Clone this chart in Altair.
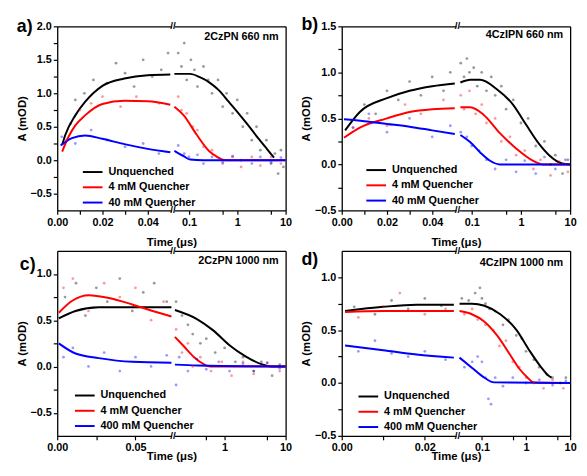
import altair as alt
import pandas as pd

FONT = "Liberation Sans"
W, WL, GAP = 232, 116, 3
H_TOP, H_BOT = 187, 188
COLORS = ["#000000", "#ff0000", "#0000ff"]

NAMES_AB = ["Unquenched", "4 mM Quencher", "40 mM Quencher"]
NAMES_CD = ["Unquenched", "4 mM Quencher", "400 mM Quencher"]
PANEL_LABELS = ["a)", "b)", "c)", "d)"]
NOTES = ["2CzPN 660 nm", "4CzIPN 660 nm", "2CzPN 1000 nm", "4CzIPN 1000 nm"]
X_TITLE = "Time (\u03bcs)"
Y_TITLE = "A (mOD)"

# ================= fitted curves =================
# panel a: 2CzPN 660 nm
A_UNQ_LIN_T = [0.0022, 0.0036, 0.008, 0.0123, 0.02, 0.0297, 0.04, 0.05]
A_UNQ_LIN_Y = [0.23, 0.38, 0.67, 0.87, 1.11, 1.22, 1.27, 1.28]
A_UNQ_LOG_T = [0.05, 0.106, 0.168, 0.267, 0.424, 0.67, 1.06, 1.69, 2.7, 4.2, 5.75]
A_UNQ_LOG_Y = [1.29, 1.29, 1.24, 1.16, 1.04, 0.87, 0.70, 0.52, 0.33, 0.16, 0.04]
A_Q4_LIN_T = [0.0022, 0.005, 0.008, 0.0123, 0.02, 0.0297, 0.04, 0.05]
A_Q4_LIN_Y = [0.13, 0.35, 0.52, 0.67, 0.84, 0.89, 0.88, 0.83]
A_Q4_LOG_T = [0.05, 0.078, 0.145, 0.267, 0.363, 0.575, 10]
A_Q4_LOG_Y = [0.80, 0.67, 0.38, 0.13, 0.06, 0.0, 0.0]
A_Q40_LIN_T = [0.0015, 0.0065, 0.0123, 0.02, 0.0297, 0.04, 0.05]
A_Q40_LIN_Y = [0.22, 0.33, 0.37, 0.32, 0.24, 0.17, 0.12]
A_Q40_LOG_T = [0.05, 0.078, 0.106, 0.196, 10]
A_Q40_LOG_Y = [0.14, 0.06, 0.01, 0.0, 0.0]

# panel b: 4CzIPN 660 nm
B_UNQ_LIN_T = [0.0015, 0.008, 0.02, 0.03, 0.04, 0.05]
B_UNQ_LIN_Y = [0.37, 0.57, 0.72, 0.80, 0.85, 0.88]
B_UNQ_LOG_T = [0.059, 0.094, 0.149, 0.32, 0.69, 1.28, 2.36, 3.74, 6.9, 10]
B_UNQ_LOG_Y = [0.89, 0.92, 0.92, 0.82, 0.65, 0.43, 0.22, 0.10, 0.01, 0.0]
B_Q4_LIN_T = [0.001, 0.008, 0.02, 0.03, 0.04, 0.05]
B_Q4_LIN_Y = [0.29, 0.40, 0.50, 0.57, 0.60, 0.61]
B_Q4_LOG_T = [0.059, 0.094, 0.174, 0.374, 0.81, 1.74, 2.75, 10]
B_Q4_LOG_Y = [0.62, 0.62, 0.54, 0.34, 0.17, 0.04, 0.0, 0.0]
B_Q40_LIN_T = [0.001, 0.01, 0.02, 0.03, 0.04, 0.05]
B_Q40_LIN_Y = [0.49, 0.47, 0.44, 0.41, 0.37, 0.33]
B_Q40_LOG_T = [0.059, 0.094, 0.149, 0.236, 0.374, 10]
B_Q40_LOG_Y = [0.32, 0.24, 0.13, 0.04, 0.0, 0.0]

# panel c: 2CzPN 1000 nm
C_UNQ_LIN_T = [0.001, 0.0117, 0.0266, 0.048, 0.073]
C_UNQ_LIN_Y = [0.52, 0.60, 0.64, 0.64, 0.64]
C_UNQ_LOG_T = [0.153, 0.357, 0.65, 1.2, 2.2, 4.0, 5.8, 10]
C_UNQ_LOG_Y = [0.61, 0.51, 0.39, 0.23, 0.11, 0.025, 0.0, 0.0]
C_Q4_LIN_T = [0.001, 0.0096, 0.0202, 0.033, 0.048, 0.061, 0.073]
C_Q4_LIN_Y = [0.58, 0.71, 0.77, 0.74, 0.67, 0.60, 0.54]
C_Q4_LOG_T = [0.153, 0.22, 0.316, 0.455, 0.58, 10]
C_Q4_LOG_Y = [0.32, 0.21, 0.10, 0.025, 0.0, 0.0]
C_Q400_LIN_T = [0.001, 0.0117, 0.0266, 0.048, 0.073]
C_Q400_LIN_Y = [0.25, 0.14, 0.09, 0.05, 0.04]
C_Q400_LOG_T = [0.153, 0.357, 10]
C_Q400_LOG_Y = [0.02, 0.01, 0.0]

# panel d: 4CzIPN 1000 nm
D_UNQ_LIN_T = [0.0008, 0.01, 0.018, 0.027]
D_UNQ_LIN_Y = [0.68, 0.72, 0.74, 0.74]
D_UNQ_LOG_T = [0.031, 0.059, 0.114, 0.26, 0.61, 1.18, 2.1, 3.2, 3.8]
D_UNQ_LOG_Y = [0.75, 0.75, 0.73, 0.65, 0.50, 0.31, 0.16, 0.07, 0.05]
D_Q4_LIN_T = [0.0008, 0.01, 0.027]
D_Q4_LIN_Y = [0.67, 0.68, 0.68]
D_Q4_LOG_T = [0.031, 0.059, 0.114, 0.22, 0.43, 0.72, 1.09, 1.5, 10]
D_Q4_LOG_Y = [0.68, 0.65, 0.58, 0.45, 0.27, 0.13, 0.05, 0.005, 0.0]
D_Q400_LIN_T = [0.0008, 0.01, 0.018, 0.027]
D_Q400_LIN_Y = [0.355, 0.31, 0.27, 0.24]
D_Q400_LOG_T = [0.031, 0.059, 0.114, 0.188, 10]
D_Q400_LOG_Y = [0.24, 0.145, 0.05, 0.006, 0.0]

# ================= measured points (faint dots) =================
A_DOT_UNQ_T = [0.006, 0.008, 0.012, 0.016, 0.022, 0.026, 0.03, 0.034, 0.038, 0.042, 0.046, 0.049,
               0.06, 0.07, 0.08, 0.09, 0.11, 0.13, 0.15, 0.2, 0.25, 0.3, 0.4, 0.5, 0.6, 0.8, 1.0,
               1.3, 1.6, 2.0, 2.5, 3, 4, 5, 6, 7, 8, 9]
A_DOT_UNQ_Y = [0.55, 0.9, 1.0, 1.2, 1.15, 1.45, 1.3, 1.1, 1.5, 1.25, 1.35, 1.6,
               1.6, 1.4, 1.75, 1.2, 1.5, 1.35, 1.1, 1.4, 1.2, 1.0, 1.2, 0.8, 1.0, 0.7, 0.9,
               0.5, 0.7, 0.3, 0.5, 0.15, 0.3, -0.05, 0.1, -0.2, 0.15, -0.1]
A_DOT_Q4_T = [0.004, 0.01, 0.015, 0.02, 0.028, 0.035, 0.045, 0.06, 0.07, 0.09, 0.12, 0.15, 0.2,
              0.3, 0.5, 0.8, 1.2, 2, 3, 5, 8]
A_DOT_Q4_Y = [0.3, 0.75, 0.85, 0.95, 0.8, 0.95, 0.85, 0.95, 0.75, 0.7, 0.5, 0.45, 0.2,
              0.15, -0.05, 0.05, -0.1, 0.05, -0.08, 0.05, -0.05]
A_DOT_Q40_T = [0.002, 0.008, 0.015, 0.022, 0.03, 0.038, 0.045, 0.06, 0.08, 0.1, 0.15, 0.2, 0.3,
               0.5, 0.8, 1.2, 2, 3, 5, 8]
A_DOT_Q40_Y = [0.35, 0.25, 0.45, 0.3, 0.2, 0.25, 0.1, 0.22, 0.1, 0.05, 0.08, -0.05, 0.05,
               -0.03, 0.06, 0.0, -0.05, 0.05, -0.03, 0.04]

B_DOT_UNQ_T = [0.01, 0.015, 0.02, 0.025, 0.03, 0.035, 0.04, 0.045, 0.048, 0.06, 0.07, 0.08, 0.09,
               0.11, 0.13, 0.16, 0.2, 0.25, 0.3, 0.4, 0.5, 0.7, 1.0, 1.4, 2, 3, 4, 5, 7, 9]
B_DOT_UNQ_Y = [0.65, 0.55, 0.8, 0.7, 0.9, 0.75, 0.95, 0.8, 1.0, 1.1, 0.95, 1.15, 1.0,
               1.05, 0.85, 1.0, 0.8, 0.95, 0.75, 0.85, 0.6, 0.7, 0.45, 0.5, 0.2, 0.25, 0.0, 0.1, -0.1, 0.05]
B_DOT_Q4_T = [0.005, 0.012, 0.02, 0.028, 0.035, 0.045, 0.06, 0.07, 0.09, 0.12, 0.16, 0.2, 0.3,
              0.4, 0.6, 0.8, 1.2, 1.8, 2.5, 4, 6, 9]
B_DOT_Q4_Y = [0.4, 0.5, 0.42, 0.65, 0.55, 0.7, 0.75, 0.6, 0.8, 0.55, 0.65, 0.45, 0.5,
              0.25, 0.3, 0.1, 0.15, -0.05, 0.05, -0.12, 0.03, -0.08]
B_DOT_Q40_T = [0.005, 0.012, 0.02, 0.03, 0.04, 0.048, 0.06, 0.08, 0.1, 0.14, 0.2, 0.3, 0.5, 0.8,
               1.2, 2, 3, 5, 8]
B_DOT_Q40_Y = [0.4, 0.55, 0.35, 0.5, 0.3, 0.42, 0.35, 0.3, 0.2, 0.15, 0.05, -0.05, 0.05, -0.08,
               0.04, -0.1, 0.08, -0.05, 0.05]

C_DOT_UNQ_T = [0.005, 0.012, 0.018, 0.025, 0.032, 0.04, 0.048, 0.055, 0.062, 0.07, 0.16, 0.2,
               0.25, 0.3, 0.4, 0.5, 0.7, 1, 1.5, 2, 3, 4, 6, 8]
C_DOT_UNQ_Y = [0.75, 0.9, 0.55, 0.85, 0.7, 0.95, 0.6, 0.8, 0.9, 0.7, 0.7, 0.55,
               0.45, 0.35, 0.25, 0.3, 0.15, 0.2, 0.05, 0.1, -0.05, 0.05, -0.1, 0.02]
C_DOT_Q4_T = [0.004, 0.01, 0.02, 0.03, 0.04, 0.05, 0.06, 0.068, 0.16, 0.2, 0.25, 0.3, 0.4, 0.6,
              0.9, 1.3, 2, 3, 5, 8]
C_DOT_Q4_Y = [0.85, 0.95, 0.6, 0.9, 0.75, 0.85, 0.5, 0.7, 0.4, 0.15, 0.25, 0.0, 0.1, -0.05,
              0.05, -0.1, 0.05, -0.08, 0.04, -0.05]
C_DOT_Q400_T = [0.004, 0.01, 0.02, 0.03, 0.04, 0.05, 0.06, 0.07, 0.16, 0.18, 0.25, 0.35, 0.5,
                0.8, 1.2, 2, 3, 5, 8]
C_DOT_Q400_Y = [0.1, 0.2, 0.0, 0.15, -0.05, 0.1, 0.0, 0.12, -0.2, 0.1, -0.05, 0.08, -0.03,
                0.05, -0.05, 0.03, -0.05, 0.04, -0.02]

D_DOT_UNQ_T = [0.003, 0.008, 0.012, 0.016, 0.02, 0.024, 0.035, 0.05, 0.07, 0.09, 0.1, 0.12, 0.15,
               0.2, 0.3, 0.4, 0.6, 0.8, 1.0, 1.5, 2, 3, 4, 6, 8]
D_DOT_UNQ_Y = [0.72, 0.65, 0.78, 0.7, 0.8, 0.73, 0.8, 0.78, 0.85, 0.9, 0.8, 0.75, 0.7,
               0.68, 0.55, 0.6, 0.45, 0.42, 0.3, 0.22, 0.15, 0.08, 0.05, 0.0, 0.05]
D_DOT_Q4_T = [0.004, 0.01, 0.014, 0.02, 0.025, 0.04, 0.06, 0.08, 0.12, 0.18, 0.25, 0.35, 0.5,
              0.7, 1, 1.5, 2.5, 4, 7]
D_DOT_Q4_Y = [0.62, 0.72, 0.85, 0.65, 0.7, 0.65, 0.7, 0.6, 0.55, 0.5, 0.35, 0.4, 0.2,
              0.15, 0.05, 0.0, -0.05, 0.03, -0.05]
D_DOT_Q400_T = [0.004, 0.008, 0.012, 0.016, 0.02, 0.025, 0.04, 0.06, 0.08, 0.1, 0.12, 0.14, 0.16,
                0.2, 0.3, 0.5, 1, 2, 4, 8]
D_DOT_Q400_Y = [0.3, 0.4, 0.28, 0.25, 0.3, 0.22, 0.15, 0.2, 0.25, 0.2, 0.05, -0.15, -0.2,
                0.05, -0.03, 0.05, 0.0, 0.03, -0.02, 0.02]

# ================= axis ticks =================
Y_TICKS_A = [-0.5, -0.25, 0.0, 0.25, 0.5, 0.75, 1.0, 1.25, 1.5, 1.75, 2.0]
Y_TICKS_B = [-0.5, -0.25, 0.0, 0.25, 0.5, 0.75, 1.0, 1.25, 1.5]
Y_TICKS_CD = [-0.5, -0.25, 0.0, 0.25, 0.5, 0.75, 1.0]
X_LIN_TICKS_AB = [0.0, 0.01, 0.02, 0.03, 0.04]
X_LIN_TICKS_C = [0.0, 0.025, 0.05]
X_LIN_TICKS_D = [0.0, 0.01, 0.02]
X_LOG_TICKS = [0.1, 0.5, 1, 5, 10]
X_LOG_TICKS_C = [0.5, 1, 5, 10]


def series_df(names, ts, ys):
    rows = []
    for k, (n, tt, yy) in enumerate(zip(names, ts, ys)):
        for t, a in zip(tt, yy):
            rows.append({"t": t, "A": a, "s": n, "k": k})
    return pd.DataFrame(rows)


def panel(idx, names, lin_ts, lin_ys, log_ts, log_ys, dot_ts, dot_ys, lin_dom, log_dom, y_dom,
          y_vals, lin_vals, lin_expr, log_vals, H, lab_xy, note_y, title_pad, leg_xy):
    lin = series_df(names, lin_ts, lin_ys)
    lg = series_df(names, log_ts, log_ys)
    dots = series_df(names, dot_ts, dot_ys)
    dots_lin = dots[dots["t"] <= lin_dom[1]]
    dots_log = dots[dots["t"] >= log_dom[0]]
    ysc = alt.Scale(domain=y_dom, nice=False, zero=False)
    xlin = alt.Scale(type="linear", domain=lin_dom, range=[0, WL], nice=False, zero=False)
    xlog = alt.Scale(type="log", domain=log_dom, range=[WL + GAP, W], nice=False)
    color = alt.Color(
        "s:N", sort=names, scale=alt.Scale(domain=names, range=COLORS),
        legend=alt.Legend(title=None, orient="none", legendX=leg_xy[0], legendY=leg_xy[1],
                          symbolType="M-2,0H2", symbolSize=100, symbolStrokeWidth=2, symbolOpacity=1,
                          labelOffset=10, rowPadding=4.5, labelFont=FONT, labelFontSize=11,
                          labelFontWeight="bold", labelColor="black"))
    y_axis = alt.Axis(orient="left", values=y_vals, format=".1f",
                      labelExpr="round(datum.value*100) % 50 == 0 ? datum.label : ''",
                      title=Y_TITLE, titlePadding=3)
    d_lin = alt.Chart(dots_lin).mark_circle(size=8, opacity=0.4).encode(
        x=alt.X("t:Q", scale=xlin, axis=None), y=alt.Y("A:Q", scale=ysc, axis=None), color=color)
    d_log = alt.Chart(dots_log).mark_circle(size=8, opacity=0.4).encode(
        x=alt.X("t:Q", scale=xlog, axis=None), y=alt.Y("A:Q", scale=ysc, axis=None), color=color)
    l_lin = alt.Chart(lin).mark_line(strokeWidth=2, interpolate="monotone").encode(
        x=alt.X("t:Q", scale=xlin,
                axis=alt.Axis(orient="bottom", values=lin_vals, format=".2f", labelExpr=lin_expr,
                              title=X_TITLE, titleX=W / 2, titlePadding=title_pad)),
        y=alt.Y("A:Q", scale=ysc, axis=y_axis),
        color=color)
    l_log = alt.Chart(lg).mark_line(strokeWidth=2, interpolate="monotone").encode(
        x=alt.X("t:Q", scale=xlog,
                axis=alt.Axis(orient="bottom", values=log_vals, format="~g",
                              labelExpr="datum.value == 0.5 || datum.value == 5 ? '' : datum.label",
                              title=None)),
        y=alt.Y("A:Q", scale=ysc, axis=None),
        color=color)
    top_lin = alt.Chart(lin).mark_line(strokeOpacity=0).encode(
        x=alt.X("t:Q", scale=xlin, axis=alt.Axis(orient="top", labels=False, ticks=False, title=None)),
        y=alt.Y("A:Q", scale=ysc, axis=alt.Axis(orient="right", labels=False, ticks=False, title=None)))
    top_log = alt.Chart(lg).mark_line(strokeOpacity=0).encode(
        x=alt.X("t:Q", scale=xlog, axis=alt.Axis(orient="top", labels=False, ticks=False, title=None)),
        y=alt.Y("A:Q", scale=ysc, axis=None))
    note = alt.Chart(pd.DataFrame({"n": [NOTES[idx]]})).mark_text(
        align="right", baseline="middle", font=FONT, fontSize=11, fontWeight="bold", color="black"
    ).encode(text="n:N", x=alt.value(W - 7), y=alt.value(note_y))
    lab = alt.Chart(pd.DataFrame({"n": [PANEL_LABELS[idx]]})).mark_text(
        align="left", baseline="middle", font=FONT, fontSize=18, fontWeight="bold", color="black"
    ).encode(text="n:N", x=alt.value(lab_xy[0]), y=alt.value(lab_xy[1]))
    brk = pd.DataFrame({"n": ["//"]})
    br_top = alt.Chart(brk).mark_text(baseline="middle", font=FONT, fontSize=10, fontWeight="bold",
                                      color="black").encode(text="n:N", x=alt.value(WL + GAP / 2), y=alt.value(0))
    br_bot = alt.Chart(brk).mark_text(baseline="middle", font=FONT, fontSize=10, fontWeight="bold",
                                      color="black").encode(text="n:N", x=alt.value(WL + GAP / 2), y=alt.value(H))
    return alt.layer(l_lin, l_log, d_lin, d_log, top_lin, top_log, note, lab, br_top, br_bot).resolve_scale(
        x="independent", y="independent").resolve_axis(x="independent", y="independent").properties(
        width=W, height=H)


EXPR_EVEN = "round(datum.value*100) % 2 == 0 ? datum.label : ''"
EXPR_C = "round(datum.value*1000) % 50 == 0 ? datum.label : ''"

pa = panel(0, NAMES_AB,
           [A_UNQ_LIN_T, A_Q4_LIN_T, A_Q40_LIN_T], [A_UNQ_LIN_Y, A_Q4_LIN_Y, A_Q40_LIN_Y],
           [A_UNQ_LOG_T, A_Q4_LOG_T, A_Q40_LOG_T], [A_UNQ_LOG_Y, A_Q4_LOG_Y, A_Q40_LOG_Y],
           [A_DOT_UNQ_T, A_DOT_Q4_T, A_DOT_Q40_T], [A_DOT_UNQ_Y, A_DOT_Q4_Y, A_DOT_Q40_Y],
           [0, 0.0505], [0.05, 10], [-0.75, 2.0], Y_TICKS_A, X_LIN_TICKS_AB, EXPR_EVEN, X_LOG_TICKS,
           H_TOP, (-41, 1), 11, 10, (30, 142))
pb = panel(1, NAMES_AB,
           [B_UNQ_LIN_T, B_Q4_LIN_T, B_Q40_LIN_T], [B_UNQ_LIN_Y, B_Q4_LIN_Y, B_Q40_LIN_Y],
           [B_UNQ_LOG_T, B_Q4_LOG_T, B_Q40_LOG_T], [B_UNQ_LOG_Y, B_Q4_LOG_Y, B_Q40_LOG_Y],
           [B_DOT_UNQ_T, B_DOT_Q4_T, B_DOT_Q40_T], [B_DOT_UNQ_Y, B_DOT_Q4_Y, B_DOT_Q40_Y],
           [0, 0.0505], [0.055, 10], [-0.5, 1.5], Y_TICKS_B, X_LIN_TICKS_AB, EXPR_EVEN, X_LOG_TICKS,
           H_TOP, (-41, -1), 9, 10, (29, 140))
pc = panel(2, NAMES_CD,
           [C_UNQ_LIN_T, C_Q4_LIN_T, C_Q400_LIN_T], [C_UNQ_LIN_Y, C_Q4_LIN_Y, C_Q400_LIN_Y],
           [C_UNQ_LOG_T, C_Q4_LOG_T, C_Q400_LOG_T], [C_UNQ_LOG_Y, C_Q4_LOG_Y, C_Q400_LOG_Y],
           [C_DOT_UNQ_T, C_DOT_Q4_T, C_DOT_Q400_T], [C_DOT_UNQ_Y, C_DOT_Q4_Y, C_DOT_Q400_Y],
           [0, 0.073], [0.15, 10], [-0.75, 1.25], Y_TICKS_CD, X_LIN_TICKS_C, EXPR_C, X_LOG_TICKS_C,
           H_BOT, (-38, 14), 10, -2, (22, 141))
pd_ = panel(3, NAMES_CD,
            [D_UNQ_LIN_T, D_Q4_LIN_T, D_Q400_LIN_T], [D_UNQ_LIN_Y, D_Q4_LIN_Y, D_Q400_LIN_Y],
            [D_UNQ_LOG_T, D_Q4_LOG_T, D_Q400_LOG_T], [D_UNQ_LOG_Y, D_Q4_LOG_Y, D_Q400_LOG_Y],
            [D_DOT_UNQ_T, D_DOT_Q4_T, D_DOT_Q400_T], [D_DOT_UNQ_Y, D_DOT_Q4_Y, D_DOT_Q400_Y],
            [0, 0.0275], [0.03, 10], [-0.5, 1.25], Y_TICKS_CD, X_LIN_TICKS_D, EXPR_EVEN, X_LOG_TICKS,
            H_BOT, (-41, 9), 12, -2, (21, 142))

chart = alt.concat(pa, pb, pc, pd_, columns=2, bounds="flush",
                   spacing=alt.RowColnumber(row=41, column=57)).resolve_scale(color="independent").configure(
    font=FONT, padding={"left": 8, "top": 5, "right": 2, "bottom": 2}, background="white"
).configure_view(stroke=None).configure_axis(
    labelFont=FONT, labelFontSize=11, labelFontWeight="bold", labelColor="black",
    titleFont=FONT, titleFontSize=11.5, titleFontWeight="bold", titleColor="black",
    domainColor="black", tickColor="black", domainWidth=1.3, tickWidth=1.2, tickSize=4,
    labelPadding=2, grid=False, labelFlush=False, labelOverlap=False)

chart.save("out.html", embed_options={"renderer": "svg", "actions": False})
